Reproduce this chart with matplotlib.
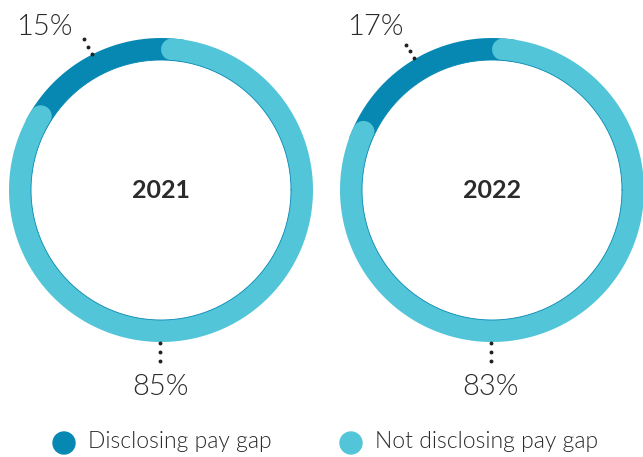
import numpy as np
import matplotlib.pyplot as plt

# data
years = ["2021", "2022"]
disclosing = [15, 17]
not_disclosing = [85, 83]
categories = ["Disclosing pay gap", "Not disclosing pay gap"]

dark = "#0788b3"
light = "#52c5d8"
txt = "#2b2b2b"

plt.rcParams['font.family'] = ['Lato', 'DejaVu Sans']

fig = plt.figure(figsize=(6.43, 4.57), dpi=100)
ax = fig.add_axes([0, 0, 1, 1])
ax.set_xlim(0, 643)
ax.set_ylim(457, 0)
ax.axis('off')

R = 141          # centre line of the ring, px
W = 22           # ring width, px
lw = W * 72 / 100
centres = [(161, 190), (492, 190)]


def arc(cx, cy, a0, a1, **kw):
    t = np.radians(np.linspace(a0, a1, 300))
    ax.plot(cx + R * np.cos(t), cy - R * np.sin(t), **kw)


for (cx, cy), year, d, n in zip(centres, years, disclosing, not_disclosing):
    total = d + n
    a_end = 90 + 360 * d / total          # dark part runs from top anticlockwise
    cap = np.degrees((W / 2) / R)
    # dark segment underneath
    arc(cx, cy, 90 - 2 * cap, a_end + 2 * cap, color=dark, lw=lw,
        solid_capstyle='butt', zorder=2)
    # light segment with rounded ends
    arc(cx, cy, a_end + cap, 90 - cap + 360, color=light, lw=lw,
        solid_capstyle='round', zorder=3)
    # thin inner edge
    t = np.radians(np.linspace(0, 360, 400))
    ax.plot(cx + (R - W / 2) * np.cos(t), cy - (R - W / 2) * np.sin(t),
            color=dark, lw=0.6, zorder=4)

    ax.text(cx, cy + 1, year, ha='center', va='center', fontsize=18,
            fontweight='bold', color=txt)

    # leader for dark share
    mid = np.radians((90 + a_end) / 2)
    for r in [153, 161, 169]:
        ax.plot(cx + r * np.cos(mid), cy - r * np.sin(mid), 'o', ms=1.8,
                color='#222222', zorder=5)
    ax.text(cx - 117, cy - 163, f"{d}%", ha='center', va='center',
            fontsize=21, fontweight=300, color=txt)

    # leader for light share (bottom)
    for y in [343, 352, 361]:
        ax.plot(cx - 1, y, 'o', ms=1.8, color='#222222', zorder=5)
    ax.text(cx - 1, 387, f"{n}%", ha='center', va='center',
            fontsize=21, fontweight=300, color=txt)

# legend
for x, col, lab in zip([64, 351], [dark, light], categories):
    ax.add_patch(plt.Circle((x, 443), 11, color=col))
    ax.text(x + 24, 442, lab, ha='left', va='center', fontsize=16.5,
            fontweight=300, color=txt)

fig.savefig("out.png", dpi=100)
